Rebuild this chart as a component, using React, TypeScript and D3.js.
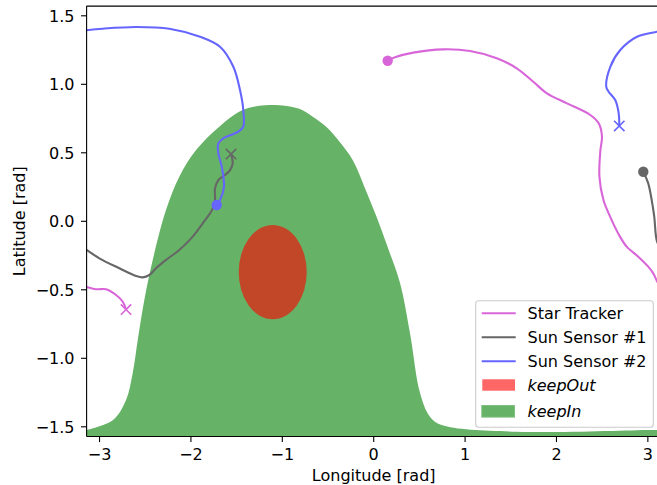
import React from "react";
import * as d3 from "d3";

// Sky map: sensor boresight tracks over longitude / latitude with keep-in / keep-out zones

const W = 657;
const H = 485;
const PI = Math.PI;

const lonTicks = [-3, -2, -1, 0, 1, 2, 3];
const latTicks = [-1.5, -1.0, -0.5, 0.0, 0.5, 1.0, 1.5];

// keep-in zone: upper boundary, filled down to the south pole
const keepInBoundary: [number, number][] = [
  [-PI, -1.523], [-2.852, -1.45], [-2.71, -1.304], [-2.637, -1.107], [-2.582, -0.866],
  [-2.51, -0.575], [-2.418, -0.283], [-2.273, 0.082], [-2.127, 0.326], [-1.944, 0.52],
  [-1.689, 0.691], [-1.433, 0.812], [-1.142, 0.849], [-0.814, 0.822], [-0.667, 0.763],
  [-0.52, 0.69], [-0.376, 0.582], [-0.23, 0.447], [-0.073, 0.204], [0.072, -0.039],
  [0.164, -0.209], [0.288, -0.45], [0.397, -0.815], [0.507, -1.253], [0.616, -1.426],
  [0.744, -1.487], [1.565, -1.536], [3.023, -1.523], [PI, -1.523],
];

// keep-out zone: ellipse centre and radii (rad)
const keepOutCenter: [number, number] = [-1.105, -0.371];
const keepOutRadii: [number, number] = [0.372, 0.344];

// Star Tracker track (wraps at +pi)
const starTrackerA: [number, number][] = [
  [0.153, 1.172], [0.233, 1.197], [0.433, 1.231], [0.761, 1.255], [1.054, 1.243],
  [1.346, 1.19], [1.565, 1.117], [1.746, 1.019], [1.896, 0.934], [2.115, 0.861],
  [2.37, 0.776], [2.462, 0.715], [2.498, 0.618], [2.481, 0.52], [2.47, 0.326],
  [2.514, 0.155], [2.604, 0.009], [2.695, -0.112], [2.768, -0.185], [2.895, -0.258],
  [3.004, -0.331], [3.059, -0.38], [3.103, -0.441], [PI, -0.48],
];
const starTrackerB: [number, number][] = [
  [-PI, -0.48], [-3.038, -0.496], [-2.929, -0.496], [-2.819, -0.538], [-2.746, -0.587],
  [-2.71, -0.644],
];

// Sun Sensor #1 track (wraps at +pi)
const sunSensor1A: [number, number][] = [
  [2.95, 0.362], [3.004, 0.277], [3.042, 0.155], [3.07, 0.034], [3.096, -0.136], [PI, -0.209],
];
const sunSensor1B: [number, number][] = [
  [-PI, -0.209], [-3.002, -0.27], [-2.783, -0.343], [-2.601, -0.399], [-2.527, -0.409],
  [-2.455, -0.392], [-2.382, -0.343], [-2.272, -0.282], [-2.127, -0.209], [-1.98, -0.112],
  [-1.871, -0.015], [-1.78, 0.07], [-1.744, 0.119], [-1.736, 0.168], [-1.736, 0.241],
  [-1.7, 0.301], [-1.627, 0.338], [-1.572, 0.374], [-1.543, 0.423], [-1.561, 0.491],
];

// Sun Sensor #2 track (wraps at -pi)
const sunSensor2A: [number, number][] = [
  [-1.718, 0.119], [-1.682, 0.155], [-1.638, 0.253], [-1.663, 0.399], [-1.7, 0.496],
  [-1.7, 0.569], [-1.646, 0.606], [-1.481, 0.654], [-1.427, 0.691], [-1.427, 0.812],
  [-1.463, 0.958], [-1.536, 1.128], [-1.682, 1.274], [-1.9, 1.347], [-2.236, 1.406],
  [-2.601, 1.418], [-2.965, 1.406], [-PI, 1.395],
];
const sunSensor2B: [number, number][] = [
  [PI, 1.392], [3.1, 1.384], [2.881, 1.347], [2.698, 1.25], [2.589, 1.128], [2.545, 0.982],
  [2.571, 0.946], [2.643, 0.885], [2.681, 0.788], [2.687, 0.696],
];

const seriesNames = ["Star Tracker", "Sun Sensor #1", "Sun Sensor #2"];
const seriesColors = ["#d966d9", "#666666", "#6666ff"];
const seriesTracks = [
  [starTrackerA, starTrackerB],
  [sunSensor1A, sunSensor1B],
  [sunSensor2A, sunSensor2B],
];

const keepInColor = "#66b266";
const keepOutFill = "rgba(255,0,0,0.6)";

const FONT = "'DejaVu Sans', sans-serif";
const FS = 16;

export default function App() {
  const left = 86.6, right = 660.8, top = 6.1, bottom = 436.5;
  const x = d3.scaleLinear().domain([-PI, PI]).range([left, right]);
  const y = d3.scaleLinear().domain([-PI / 2, PI / 2]).range([bottom, top]);

  const area = d3
    .area<[number, number]>()
    .x((d) => x(d[0]))
    .y0(() => y(-PI / 2))
    .y1((d) => y(d[1]))
    .curve(d3.curveCatmullRom.alpha(0.5));

  const line = d3
    .line<[number, number]>()
    .x((d) => x(d[0]))
    .y((d) => y(d[1]))
    .curve(d3.curveCatmullRom);

  const lw = 2.1;
  const ms = 5.2;

  const xMarker = (cx: number, cy: number, color: string, key: string) => (
    <path
      key={key}
      d={`M${cx - ms},${cy - ms}L${cx + ms},${cy + ms}M${cx - ms},${cy + ms}L${cx + ms},${cy - ms}`}
      stroke={color}
      strokeWidth={1.6}
      fill="none"
    />
  );

  // legend layout
  const lgX = 475.7, lgY = 300.7, lgW = 177.6, lgH = 126.6;
  const rowY = [313.3, 337.3, 361.2, 385.1, 411.3];
  const hx0 = 481.7, hx1 = 515.7, tx = 527.5;

  return (
    <div style={{ position: "absolute", left: 0, top: 0 }}>
      <svg width={W} height={H} style={{ display: "block", background: "#fff" }} fontFamily={FONT}>
        <defs>
          <clipPath id="plotClip">
            <rect x={left} y={top} width={right - left} height={bottom - top} />
          </clipPath>
        </defs>
        <rect x={0} y={0} width={W} height={H} fill="#fff" />
        <g clipPath="url(#plotClip)">
          <path d={area(keepInBoundary) || ""} fill={keepInColor} />
          <ellipse
            cx={x(keepOutCenter[0])}
            cy={y(keepOutCenter[1])}
            rx={x(keepOutCenter[0] + keepOutRadii[0]) - x(keepOutCenter[0])}
            ry={y(keepOutCenter[1]) - y(keepOutCenter[1] + keepOutRadii[1])}
            fill={keepOutFill}
          />
          {seriesTracks.map((segs, i) => {
            const color = seriesColors[i];
            const first = segs[0][0];
            const lastSeg = segs[segs.length - 1];
            const last = lastSeg[lastSeg.length - 1];
            return (
              <g key={seriesNames[i]}>
                {segs.map((s, j) => (
                  <path key={j} d={line(s) || ""} fill="none" stroke={color} strokeWidth={lw} />
                ))}
                <circle cx={x(first[0])} cy={y(first[1])} r={ms} fill={color} />
                {xMarker(x(last[0]), y(last[1]), color, "end")}
              </g>
            );
          })}
        </g>

        {/* spines */}
        <g stroke="#000" strokeWidth={1.1} fill="none">
          <line x1={left} y1={top} x2={right} y2={top} />
          <line x1={left} y1={bottom} x2={right} y2={bottom} />
          <line x1={left} y1={top} x2={left} y2={bottom} />
          <line x1={right} y1={top} x2={right} y2={bottom} />
        </g>

        {/* x ticks */}
        {lonTicks.map((t) => (
          <g key={"x" + t}>
            <line x1={x(t)} x2={x(t)} y1={bottom} y2={bottom + 5.6} stroke="#000" strokeWidth={1.1} />
            <text x={x(t)} y={459.5} textAnchor="middle" fontSize={FS} fill="#000">
              {d3.format("d")(t).replace("-", "\u2212")}
            </text>
          </g>
        ))}
        {/* y ticks */}
        {latTicks.map((t) => (
          <g key={"y" + t}>
            <line x1={left - 5.6} x2={left} y1={y(t)} y2={y(t)} stroke="#000" strokeWidth={1.1} />
            <text x={74.5} y={y(t) + 5.8} textAnchor="end" fontSize={FS} fill="#000">
              {d3.format(".1f")(t).replace("-", "\u2212")}
            </text>
          </g>
        ))}

        <text x={(left + right) / 2} y={481} textAnchor="middle" fontSize={FS} fill="#000">
          Longitude [rad]
        </text>
        <text
          transform={`translate(24.5,${(top + bottom) / 2}) rotate(-90)`}
          textAnchor="middle"
          fontSize={FS}
          fill="#000"
        >
          Latitude [rad]
        </text>

        {/* legend */}
        <rect x={lgX} y={lgY} width={lgW} height={lgH} rx={3} fill="#fff" fillOpacity={0.8} stroke="#cccccc" strokeWidth={1.1} />
        {seriesNames.map((n, i) => (
          <g key={n}>
            <line x1={hx0} x2={hx1} y1={rowY[i]} y2={rowY[i]} stroke={seriesColors[i]} strokeWidth={lw} />
            <text x={tx} y={rowY[i] + 5.8} fontSize={FS} fill="#000">{n}</text>
          </g>
        ))}
        <rect x={482.3} y={rowY[3] - 5.8} width={32.7} height={11.4} fill="#ff6666" />
        <text x={tx} y={rowY[3] + 5.8} fontSize={FS} fontStyle="italic" fill="#000">keepOut</text>
        <rect x={481.8} y={rowY[4] - 5.8} width={32.7} height={11.6} fill={keepInColor} stroke="#7fbf7f" strokeWidth={1} />
        <text x={tx} y={rowY[4] + 5.8} fontSize={FS} fontStyle="italic" fill="#000">keepIn</text>
      </svg>
    </div>
  );
}
